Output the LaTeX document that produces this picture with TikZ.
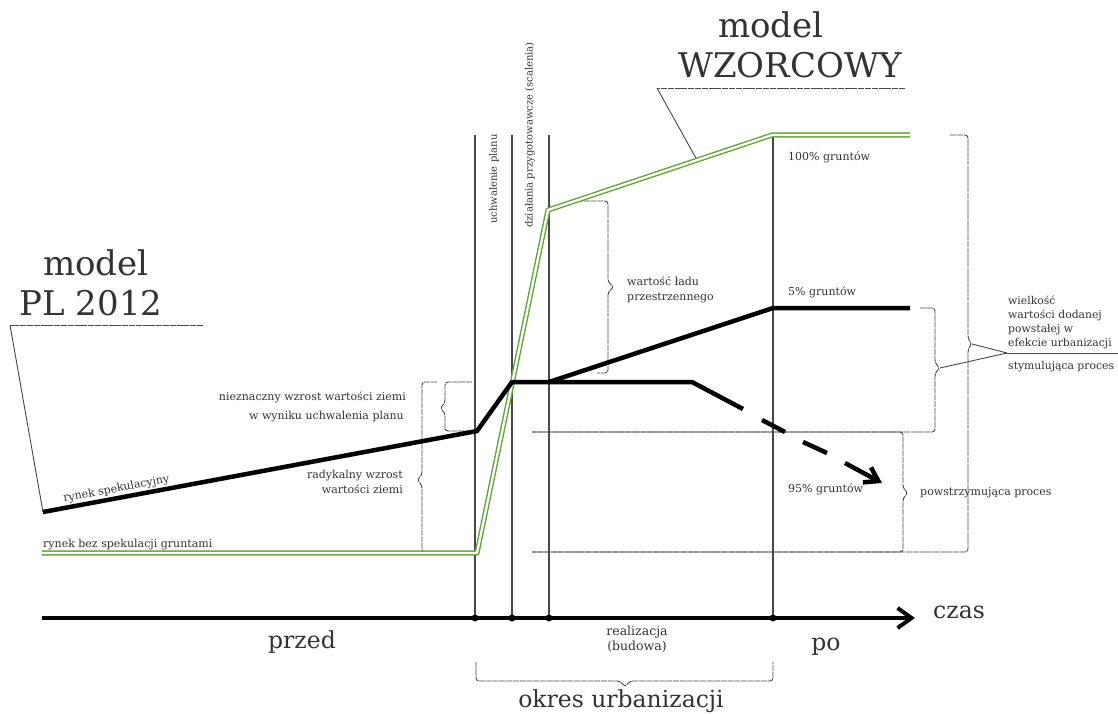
\documentclass[tikz,border=0pt]{standalone}
\usepackage{fontspec}
\setmainfont{DejaVu Serif}
\usetikzlibrary{arrows.meta}
\definecolor{txt}{HTML}{333333}
\definecolor{grn}{HTML}{5FA532}
\definecolor{gline}{HTML}{474747}
\tikzset{
  vline/.style={draw=gline, line width=1.1pt},
  leadline/.style={draw=gline, line width=0.9pt},
  brc/.style={draw=gline, line width=0.9pt, rounded corners=3pt, dash pattern=on 6pt off 0.8pt},
  greenline/.style={draw=grn, line width=1.4pt, double=white, double distance=2.3pt, line join=round},
  blackline/.style={draw=black, line width=4.5pt, line join=round},
  smalltxt/.style={text=txt, font=\fontsize{11}{13}\selectfont, inner sep=0pt},
  tinytxt/.style={text=txt, font=\fontsize{10}{12}\selectfont, inner sep=0pt},
  bigtxt/.style={text=txt, font=\fontsize{23.5}{26}\selectfont, inner sep=0pt},
  hugetxt/.style={text=txt, font=\fontsize{34}{38}\selectfont, inner sep=0pt},
}
% x, ytop, ybot, ytip, xtopend, xbotend, tipdx, name
\newcommand\mybrace[8]{%
  \draw[brc] (#5,#2) -- (#1,#2) -- (#1,#4-5) -- ({#1+#7},#4) coordinate (#8) -- (#1,#4+5) -- (#1,#3) -- (#6,#3);
}
\begin{document}
\begin{tikzpicture}[x=1pt,y=-1pt]
\fill[white] (0,0) rectangle (1118,713);
\useasboundingbox (0,0) rectangle (1118,713);

% vertical phase lines
\coordinate (t1) at (475,618);
\coordinate (t2) at (512,618);
\coordinate (t3) at (549,618);
\coordinate (t4) at (773,618);
\draw[vline] (475,135) -- (t1);
\draw[vline] (512,135) -- (t2);
\draw[vline] (549,135) -- (t3);
\draw[vline] (773,135) -- (t4);

% braces
\mybrace{445}{382}{431}{408}{472}{477}{-5}{bA}
\mybrace{422}{382}{552}{480}{437}{428}{-5}{bB}
\mybrace{608}{201}{373}{287}{577}{597}{6}{bC}
\mybrace{935}{308}{432}{368}{920}{532}{5}{bD}
\mybrace{903}{432}{552}{493}{532}{532}{5}{bE}
\mybrace{968}{135}{552}{344}{950}{532}{4}{bF}
\coordinate (lead) at (1007,353);
\draw[leadline] (bF) -- (lead);
\draw[leadline] (bD) -- (lead);
\draw[leadline] (lead) -- (1118,353);

% bottom brace
\draw[brc] (476,662) -- (476,681) -- (620,681) -- (625,687) coordinate (bG) -- (630,681) -- (773,681) -- (773,662);

% model leaders
\coordinate (pl0) at (43,512);
\coordinate (wz0) at (697,160);
\draw[brc] (203,325) -- (10,325);
\draw[leadline] (10,325) -- (pl0);
\draw[brc] (905,88) -- (657,88);
\draw[leadline] (657,88) -- (wz0);

% green curve
\draw[greenline] (42,553) -- (477,553) -- (548,210) -- (772,135) -- (910,135);

% black curves
\draw[blackline] (pl0) -- (477,431) -- (512,382) -- (692,382) -- (743,409);
\draw[blackline] (549,382) -- (773,308) -- (910,308);
\draw[blackline] (762,420) -- (785,432);
\draw[blackline] (803,442) -- (827,453);
\draw[blackline, -{Straight Barb[length=13pt,width=17pt]}] (845,463) -- (882,483);

% time axis
\draw[line width=4pt, -{Straight Barb[length=14pt,width=20pt]}] (42,618) -- (915,618);
\foreach \p in {t1,t2,t3,t4} \fill (\p) circle (3.5pt);

% texts
\node[hugetxt, anchor=base] (mPL) at (96,275) {model};
\node[hugetxt, anchor=base] (PL) at (91,315) {PL 2012};
\node[hugetxt, anchor=base] (mW) at (771,37) {model};
\node[hugetxt, anchor=base] (WZ) at (790,77) {WZORCOWY};

\node[bigtxt, anchor=base] (przed) at (302,648) {przed};
\node[bigtxt, anchor=base] (po) at (826,650) {po};
\node[bigtxt, anchor=base west] (czas) at (933,618) {czas};
\node[bigtxt, anchor=base] (okres) at (621,707) {okres urbanizacji};

\node[smalltxt, font=\fontsize{12.5}{15}\selectfont, anchor=base] (real) at (637,635) {realizacja};
\node[smalltxt, font=\fontsize{12.5}{15}\selectfont, anchor=base] (bud) at (637,650) {(budowa)};

\node[tinytxt, rotate=90, anchor=west] (uchw) at (494,224) {uchwalenie planu};
\node[tinytxt, rotate=90, anchor=west] (dzial) at (530,228) {działania przygotowawcze (scalenia)};

\node[smalltxt, anchor=base east] (n1) at (406,400) {nieznaczny wzrost wartości ziemi};
\node[smalltxt, anchor=base east] (n2) at (404,419) {w wyniku uchwalenia planu};
\node[smalltxt, anchor=base east] (r1) at (403,478) {radykalny wzrost};
\node[smalltxt, anchor=base east] (r2) at (403,493) {wartości ziemi};

\node[smalltxt, anchor=base west, rotate=10.6] (spek) at (64,502) {rynek spekulacyjny};
\node[smalltxt, anchor=base west] (bez) at (43,547) {rynek bez spekulacji gruntami};

\node[smalltxt, anchor=base west] (lad1) at (627,285) {wartość ładu};
\node[smalltxt, anchor=base west] (lad2) at (627,300) {przestrzennego};

\node[smalltxt, anchor=base west] (g100) at (788,160) {100\% gruntów};
\node[smalltxt, anchor=base west] (g5) at (788,295) {5\% gruntów};
\node[smalltxt, anchor=base west] (g95) at (788,492) {95\% gruntów};

\node[smalltxt, font=\fontsize{10.8}{13}\selectfont, anchor=base west] (w1) at (1008,304) {wielkość};
\node[smalltxt, font=\fontsize{10.8}{13}\selectfont, anchor=base west] (w2) at (1008,318) {wartości dodanej};
\node[smalltxt, font=\fontsize{10.8}{13}\selectfont, anchor=base west] (w3) at (1008,332) {powstałej w};
\node[smalltxt, font=\fontsize{10.8}{13}\selectfont, anchor=base west] (w4) at (1008,346) {efekcie urbanizacji};
\node[smalltxt, font=\fontsize{10.8}{13}\selectfont, anchor=base west] (stym) at (1008,369) {stymulująca proces};
\node[smalltxt, anchor=base west] (powst) at (920,495) {powstrzymująca proces};
\end{tikzpicture}
\end{document}
